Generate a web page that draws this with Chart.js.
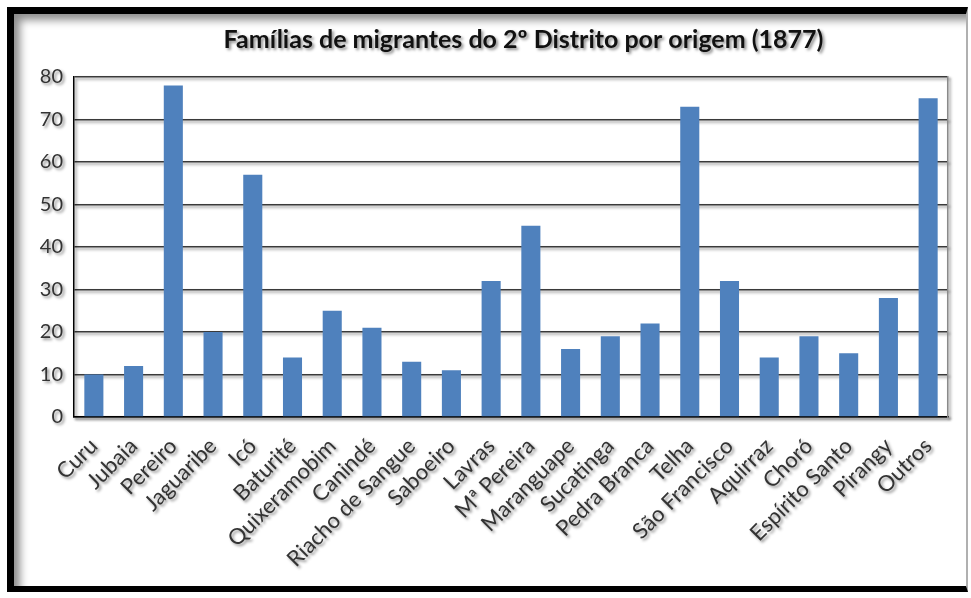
<!DOCTYPE html>
<html>
<head>
<meta charset="utf-8">
<script src="https://cdn.jsdelivr.net/npm/chart.js@4.4.1/dist/chart.umd.min.js"></script>
<style>
  html, body { margin: 0; padding: 0; background: #ffffff; }
  #wrap { position: relative; width: 971px; height: 598px; overflow: hidden; }
  #frame {
    position: absolute; left: 7px; top: 7px; width: 961px; height: 585px;
    border-left: 7px solid #000; border-top: 7px solid #000; border-bottom: 6px solid #000;
    border-right: 2px solid #b0b0b0;
    box-shadow: inset 9px 9px 9px -3px rgba(0,0,0,0.45);
    background: #fff; box-sizing: border-box;
  }
  canvas { position: absolute; left: 0; top: 0; }
</style>
</head>
<body>
<div id="wrap">
  <div id="frame"></div>
  <canvas id="c" width="971" height="598"></canvas>
</div>
<script>
const titleText = 'Famílias de migrantes do 2º Distrito por origem (1877)';
const categories = ['Curu','Jubaia','Pereiro','Jaguaribe','Icó','Baturité','Quixeramobim','Canindé','Riacho de Sangue','Saboeiro','Lavras','Mª Pereira','Maranguape','Sucatinga','Pedra Branca','Telha','São Francisco','Aquirraz','Choró','Espírito Santo','Pirangy','Outros'];
const familias = [10,12,78,20,57,14,25,21,13,11,32,45,16,19,22,73,32,14,19,15,28,75];
const yTicks = [0,10,20,30,40,50,60,70,80];

const shadowPlugin = {
  id: 'shadowPlugin',
  afterLayout(chart) {
    // shift the title box so its centre sits where the reference title sits
    if (chart.titleBlock) { chart.titleBlock.left += 80; chart.titleBlock.right += 4; }
  },
  beforeDraw(chart) {
    const ctx = chart.ctx;
    ctx.shadowColor = 'rgba(0,0,0,0.45)';
    ctx.shadowBlur = 3;
    ctx.shadowOffsetX = 2;
    ctx.shadowOffsetY = 2;
  },
  beforeDatasetsDraw(chart) {
    const ctx = chart.ctx;
    ctx.shadowColor = 'rgba(0,0,0,0)';
    ctx.shadowBlur = 0;
    ctx.shadowOffsetX = 0;
    ctx.shadowOffsetY = 0;
  }
};

new Chart(document.getElementById('c'), {
  type: 'bar',
  data: {
    labels: categories,
    datasets: [{
      data: familias,
      backgroundColor: '#4f81bd',
      borderWidth: 0,
      categoryPercentage: 1.0,
      barPercentage: 0.48
    }]
  },
  options: {
    responsive: false,
    animation: false,
    layout: { padding: { left: 15, top: 14, right: 23, bottom: 6 } },
    plugins: {
      legend: { display: false },
      tooltip: { enabled: false },
      title: {
        display: true,
        text: titleText,
        color: '#111111',
        font: { family: 'Lato', size: 25, weight: 'bold', lineHeight: 1.2 },
        padding: { top: 11, bottom: 22 }
      }
    },
    scales: {
      x: {
        grid: { display: false, drawTicks: false },
        border: { display: true, color: '#000000', width: 1.5 },
        ticks: {
          autoSkip: false,
          minRotation: 45,
          maxRotation: 45,
          color: '#333333',
          padding: 16,
          font: { family: 'Lato', size: 22 }
        },
        afterFit(scale) { scale.height = 175; }
      },
      y: {
        min: 0,
        max: 80,
        afterBuildTicks(scale) { scale.ticks = yTicks.map(v => ({ value: v })); },
        grid: { color: '#3a3a3a', lineWidth: 1.5, drawTicks: false },
        border: { display: true, color: '#000000', width: 1.5 },
        ticks: {
          color: '#333333',
          padding: 11,
          font: { family: 'Lato', size: 20 }
        },
        afterFit(scale) { scale.width = 59; }
      },
      y2: {
        position: 'right',
        min: 0,
        max: 80,
        grid: { display: false, drawTicks: false },
        border: { display: true, color: '#8a8a8a', width: 1.5 },
        ticks: { display: false },
        afterFit(scale) { scale.width = 0; }
      }
    }
  },
  plugins: [shadowPlugin]
});
</script>
</body>
</html>
